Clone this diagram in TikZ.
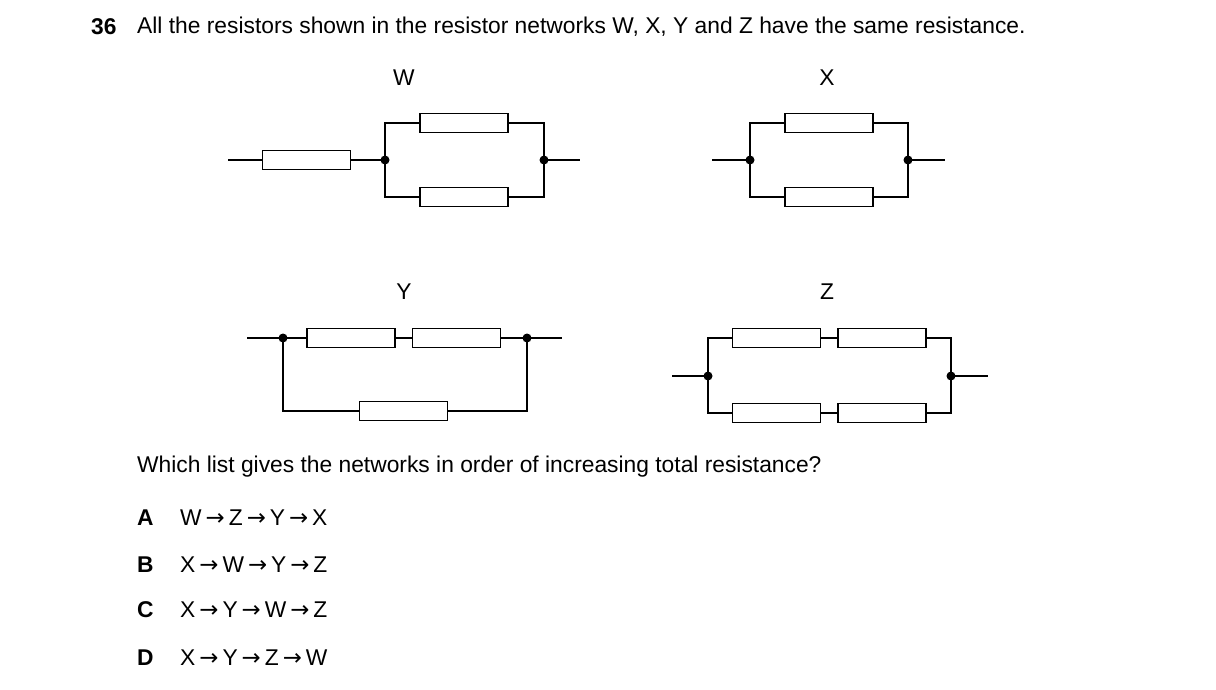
\documentclass[tikz,border=0pt]{standalone}
\usepackage{fontspec}
\setmainfont{Liberation Sans}
\newfontfamily\arr{DejaVu Sans}
\begin{document}
\begin{tikzpicture}[x=1pt,y=-1pt,
  w/.style={line width=1.4pt},
  res/.style={draw,line width=1.4pt,minimum width=88pt,minimum height=19pt,inner sep=0pt},
  dot/.style={circle,fill,inner sep=0pt,minimum size=9pt},
  txt/.style={anchor=west,inner sep=0pt,font=\fontsize{22.8}{26}\selectfont},
  lab/.style={inner sep=0pt,font=\fontsize{22.8}{26}\selectfont}]
\useasboundingbox (0,0) rectangle (1216,689);
\node[txt,font=\fontsize{22.8}{26}\selectfont\bfseries] (n) at (91,27) {36};
\node[txt] (t) at (137,27) {All the resistors shown in the resistor networks W, X, Y and Z have the same resistance.};
% W
\node[lab] (lw) at (404,78) {W};
\coordinate (w0) at (228,160); \coordinate (w9) at (580,160);
\node[res] (wr1) at (306.5,160) {};
\node[res] (wr2) at (464,123) {};
\node[res] (wr3) at (464,197) {};
\node[dot] (wa) at (385,160) {}; \node[dot] (wb) at (544,160) {};
\draw[w] (w0) -- (wr1.west) (wr1.east) -- (wa.center) (wb.center) -- (w9);
\draw[w] (wr2.west) -| (wa.center) |- (wr3.west);
\draw[w] (wr2.east) -| (wb.center) |- (wr3.east);
% X
\node[lab] (lx) at (827,78) {X};
\coordinate (x0) at (712,160); \coordinate (x9) at (945,160);
\node[res] (xr2) at (829,123) {};
\node[res] (xr3) at (829,197) {};
\node[dot] (xa) at (750,160) {}; \node[dot] (xb) at (908,160) {};
\draw[w] (x0) -- (xa.center) (xb.center) -- (x9);
\draw[w] (xr2.west) -| (xa.center) |- (xr3.west);
\draw[w] (xr2.east) -| (xb.center) |- (xr3.east);
% Y
\node[lab] (ly) at (404,292) {Y};
\coordinate (y0) at (247,338); \coordinate (y9) at (562,338);
\node[res] (yr1) at (351,338) {};
\node[res] (yr2) at (456.5,338) {};
\node[res] (yr3) at (403.5,411) {};
\node[dot] (ya) at (283,338) {}; \node[dot] (yb) at (527,338) {};
\draw[w] (y0) -- (ya.center) -- (yr1.west) (yr1.east) -- (yr2.west) (yr2.east) -- (yb.center) -- (y9);
\draw[w] (ya.center) |- (yr3.west) (yr3.east) -| (yb.center);
% Z
\node[lab] (lz) at (827,292) {Z};
\coordinate (z0) at (672,376); \coordinate (z9) at (988,376);
\node[res] (zr1) at (776.5,338) {};
\node[res] (zr2) at (882,338) {};
\node[res] (zr3) at (776.5,413) {};
\node[res] (zr4) at (882,413) {};
\node[dot] (za) at (708,376) {}; \node[dot] (zb) at (951,376) {};
\draw[w] (z0) -- (za.center) (zb.center) -- (z9);
\draw[w] (zr1.west) -| (za.center) |- (zr3.west);
\draw[w] (zr2.east) -| (zb.center) |- (zr4.east);
\draw[w] (zr1.east) -- (zr2.west) (zr3.east) -- (zr4.west);
% question
\node[txt] (q) at (137,467) {Which list gives the networks in order of increasing total resistance?};
\newcommand{\ar}{\hspace{4pt}{\arr →}\hspace{4pt}}
\node[txt,font=\fontsize{22.8}{26}\selectfont\bfseries] (oa) at (137,518) {A};
\node[txt] (ta) at (180,518) {W\ar Z\ar Y\ar X};
\node[txt,font=\fontsize{22.8}{26}\selectfont\bfseries] (ob) at (137,565) {B};
\node[txt] (tb) at (180,565) {X\ar W\ar Y\ar Z};
\node[txt,font=\fontsize{22.8}{26}\selectfont\bfseries] (oc) at (137,610) {C};
\node[txt] (tc) at (180,610) {X\ar Y\ar W\ar Z};
\node[txt,font=\fontsize{22.8}{26}\selectfont\bfseries] (od) at (137,658) {D};
\node[txt] (td) at (180,658) {X\ar Y\ar Z\ar W};
\end{tikzpicture}
\end{document}
